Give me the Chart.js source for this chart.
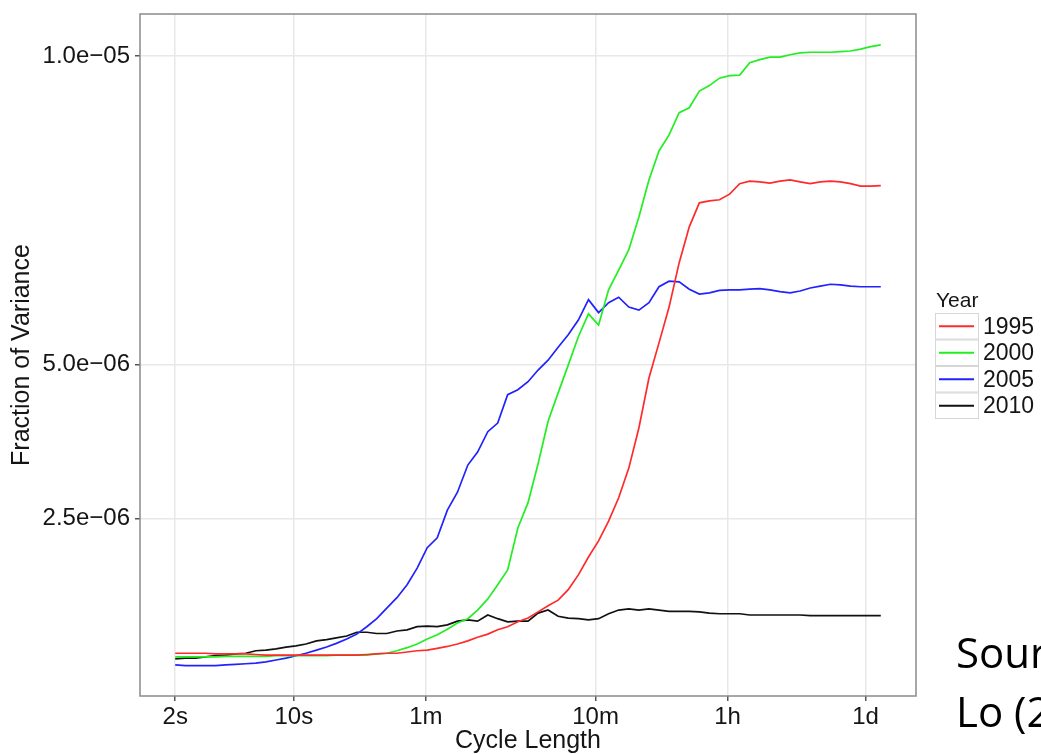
<!DOCTYPE html>
<html>
<head>
<meta charset="utf-8">
<script src="https://cdn.jsdelivr.net/npm/chart.js@4.4.1/dist/chart.umd.min.js"></script>
<style>
    body { margin: 0; background: #fff; overflow: hidden; }
    #wrap { position: relative; width: 1041px; height: 754px; }
    .note { position: absolute; left: 956px; font-family: 'Open Sans', sans-serif; font-size: 42px; line-height: 1; color: #000; white-space: nowrap; }
</style>
</head>
<body>
<div id="wrap">
    <canvas id="chart"></canvas>
    <div class="note" style="top: 631px">Sour</div>
    <div class="note" style="top: 690px">Lo (2</div>
</div>
<script>
// --- DATA ---
// cycle length in seconds, one entry per sample
const cycleSeconds = [2.00, 2.29, 2.63, 3.01, 3.46, 3.96, 4.54, 5.21, 5.97, 6.85,
    7.85, 9.00, 10.3, 11.8, 13.6, 15.6, 17.8, 20.5, 23.5, 26.9,
    30.8, 35.3, 40.5, 46.5, 53.3, 61.1, 70.0, 80.3, 92.1, 106,
    121, 139, 159, 182, 209, 240, 275, 315, 361, 414,
    475, 545, 625, 716, 821, 942, 1080, 1238, 1419, 1627,
    1866, 2140, 2453, 2812, 3225, 3698, 4240, 4861, 5574, 6391,
    7328, 8402, 9632, 11044, 12663, 14520, 16649, 19089, 21887, 25096,
    28775];

// fraction of variance, in units of 1e-6
const var1995 = [0.32, 0.32, 0.32, 0.32, 0.31, 0.31, 0.31, 0.31, 0.30, 0.29,
    0.29, 0.29, 0.29, 0.29, 0.29, 0.29, 0.29, 0.29, 0.29, 0.30,
    0.31, 0.32, 0.32, 0.34, 0.36, 0.37, 0.40, 0.43, 0.47, 0.52,
    0.58, 0.63, 0.70, 0.75, 0.83, 0.89, 0.99, 1.09, 1.18, 1.35,
    1.59, 1.88, 2.14, 2.46, 2.84, 3.32, 3.97, 4.78, 5.35, 5.93,
    6.65, 7.23, 7.62, 7.65, 7.67, 7.76, 7.93, 7.97, 7.96, 7.94,
    7.97, 7.99, 7.96, 7.93, 7.96, 7.97, 7.96, 7.93, 7.89, 7.89,
    7.90];
const var2000 = [0.26, 0.26, 0.26, 0.26, 0.26, 0.27, 0.27, 0.27, 0.27, 0.27,
    0.28, 0.28, 0.28, 0.28, 0.28, 0.28, 0.29, 0.29, 0.29, 0.29,
    0.31, 0.32, 0.36, 0.41, 0.47, 0.55, 0.62, 0.71, 0.81, 0.88,
    1.02, 1.20, 1.43, 1.67, 2.35, 2.76, 3.39, 4.08, 4.54, 4.99,
    5.45, 5.82, 5.64, 6.21, 6.53, 6.86, 7.39, 7.99, 8.46, 8.72,
    9.08, 9.16, 9.43, 9.52, 9.64, 9.68, 9.69, 9.89, 9.94, 9.98,
    9.98, 10.02, 10.05, 10.06, 10.06, 10.06, 10.07, 10.08, 10.11, 10.15,
    10.18];
const var2005 = [0.13, 0.12, 0.12, 0.12, 0.12, 0.13, 0.14, 0.15, 0.16, 0.18,
    0.21, 0.24, 0.28, 0.32, 0.37, 0.42, 0.48, 0.55, 0.63, 0.75,
    0.88, 1.05, 1.22, 1.43, 1.70, 2.03, 2.19, 2.64, 2.93, 3.37,
    3.58, 3.91, 4.05, 4.51, 4.59, 4.72, 4.91, 5.07, 5.28, 5.48,
    5.72, 6.05, 5.84, 6.00, 6.09, 5.93, 5.88, 6.00, 6.26, 6.35,
    6.34, 6.22, 6.14, 6.16, 6.20, 6.21, 6.21, 6.22, 6.23, 6.21,
    6.18, 6.16, 6.19, 6.24, 6.27, 6.30, 6.29, 6.27, 6.26, 6.26,
    6.26];
const var2010 = [0.23, 0.24, 0.24, 0.26, 0.28, 0.29, 0.31, 0.32, 0.36, 0.37,
    0.39, 0.42, 0.44, 0.47, 0.52, 0.54, 0.57, 0.60, 0.66, 0.66,
    0.64, 0.64, 0.68, 0.70, 0.75, 0.76, 0.75, 0.78, 0.84, 0.86,
    0.84, 0.94, 0.88, 0.83, 0.84, 0.84, 0.97, 1.02, 0.92, 0.89,
    0.88, 0.86, 0.88, 0.96, 1.02, 1.04, 1.02, 1.04, 1.02, 1.00,
    1.00, 1.00, 0.99, 0.97, 0.96, 0.96, 0.96, 0.94, 0.94, 0.94,
    0.94, 0.94, 0.94, 0.93, 0.93, 0.93, 0.93, 0.93, 0.93, 0.93,
    0.93];

const years = ['1995', '2000', '2005', '2010'];
const yearValues = [var1995, var2000, var2005, var2010];
const yearColors = ['#ff2a2a', '#22ee22', '#2222ff', '#111111'];

const xTicks = [2, 10, 60, 600, 3600, 23400];
const xTickLabels = ['2s', '10s', '1m', '10m', '1h', '1d'];
const yTicks = [2.5e-6, 5e-6, 1e-5];
const yTickLabels = ['2.5e\u221206', '5.0e\u221206', '1.0e\u221205'];

// --- CHART ---
const FONT = "'Liberation Sans', Arial, sans-serif";
const TEXT = '#151515';

const datasets = years.map((year, i) => ({
    label: year,
    data: cycleSeconds.map((s, j) => ({ x: s, y: yearValues[i][j] * 1e-6 })),
    borderColor: yearColors[i],
    borderWidth: 1.7,
    showLine: true,
    pointRadius: 0,
    tension: 0
}));

// grey frame round the panel, drawn over the lines like ggplot does
const panelBorder = {
    id: 'panelBorder',
    afterDatasetsDraw(chart) {
        const { ctx, chartArea: a } = chart;
        ctx.save();
        ctx.strokeStyle = '#8a8a8a';
        ctx.lineWidth = 1.5;
        ctx.strokeRect(a.left, a.top, a.right - a.left, a.bottom - a.top);
        ctx.restore();
    }
};

// ggplot-style legend with boxed keys
const yearLegend = {
    id: 'yearLegend',
    afterDraw(chart) {
        const { ctx, chartArea: a } = chart;
        const x0 = a.right + 19, y0 = 313, keyW = 44, keyH = 26.5;
        ctx.save();
        ctx.textBaseline = 'middle';
        ctx.fillStyle = TEXT;
        ctx.font = `21px ${FONT}`;
        ctx.fillText('Year', x0 + 1, 301);
        ctx.font = `23px ${FONT}`;
        chart.data.datasets.forEach((ds, i) => {
            const y = y0 + i * keyH;
            ctx.strokeStyle = '#d6d6d6';
            ctx.lineWidth = 1;
            ctx.strokeRect(x0 + 0.5, y + 0.5, keyW - 1, keyH - 1);
            ctx.strokeStyle = ds.borderColor;
            ctx.lineWidth = 2.2;
            ctx.beginPath();
            ctx.moveTo(x0 + 4, y + keyH / 2);
            ctx.lineTo(x0 + keyW - 5, y + keyH / 2);
            ctx.stroke();
            ctx.fillStyle = TEXT;
            ctx.fillText(ds.label, x0 + keyW + 4, y + keyH / 2 + 1);
        });
        ctx.restore();
    }
};

new Chart(document.getElementById('chart'), {
    type: 'scatter',
    data: { datasets },
    plugins: [panelBorder, yearLegend],
    options: {
        responsive: true,
        maintainAspectRatio: false,
        animation: false,
        layout: { padding: { top: 14, right: 125, left: 0, bottom: 0 } },
        plugins: { legend: { display: false }, tooltip: { enabled: false } },
        scales: {
            x: {
                type: 'logarithmic',
                min: 1.24,
                max: 46400,
                afterBuildTicks: s => { s.ticks = xTicks.map(v => ({ value: v })); },
                afterFit: s => { s.height = 58; s.paddingLeft = 0; s.paddingRight = 0; },
                ticks: {
                    callback: (v, i) => xTickLabels[i],
                    font: { family: FONT, size: 24 },
                    color: TEXT,
                    padding: 2,
                    maxRotation: 0,
                    autoSkip: false
                },
                grid: { color: '#e8e8e8', lineWidth: 1.5, tickColor: '#555', tickLength: 5 },
                border: { display: false },
                title: {
                    display: true,
                    text: 'Cycle Length',
                    color: TEXT,
                    font: { family: FONT, size: 25, lineHeight: 1 },
                    padding: { top: 0, bottom: 0 }
                }
            },
            y: {
                type: 'linear',
                min: -3.73e-7,
                max: 1.068e-5,
                afterBuildTicks: s => { s.ticks = yTicks.map(v => ({ value: v })); },
                afterFit: s => { s.width = 140; s.paddingTop = 0; s.paddingBottom = 0; },
                ticks: {
                    callback: (v, i) => yTickLabels[i],
                    font: { family: FONT, size: 24 },
                    color: TEXT,
                    padding: 5
                },
                grid: { color: '#e8e8e8', lineWidth: 1.5, tickColor: '#555', tickLength: 5 },
                border: { display: false },
                title: {
                    display: true,
                    text: 'Fraction of Variance',
                    color: TEXT,
                    font: { family: FONT, size: 25, lineHeight: 1 },
                    padding: { top: 10, bottom: 0 }
                }
            }
        }
    }
});
</script>
</body>
</html>
